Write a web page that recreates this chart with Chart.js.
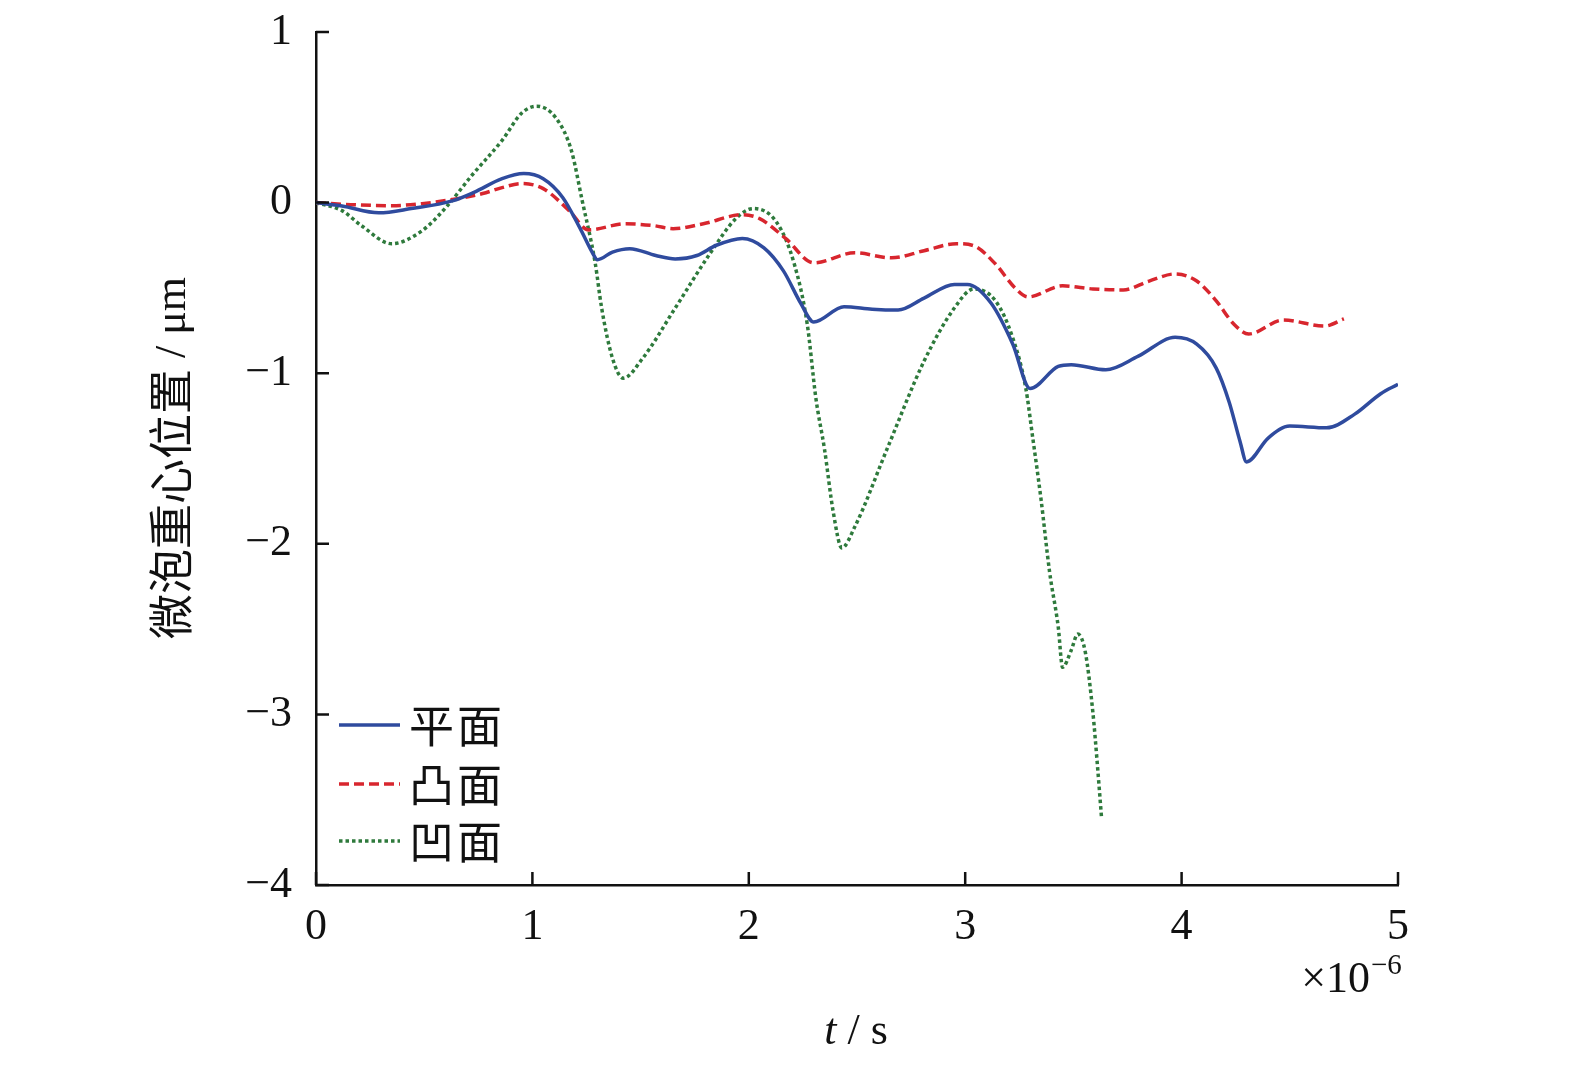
<!DOCTYPE html>
<html>
<head>
<meta charset="utf-8">
<script src="https://cdn.jsdelivr.net/npm/chart.js@4/dist/chart.umd.min.js"></script>
<style>
  html, body { margin: 0; padding: 0; background: #fff; }
  #wrap { width: 1575px; height: 1069px; }
</style>
</head>
<body>
<div id="wrap"><canvas id="chart" width="1575" height="1069"></canvas></div>
<script>
// ─── Data (t in units of 1e-6 s, position in µm) ───────────────

const planeT = [0, 0.12, 0.29, 0.44, 0.63, 0.73, 0.86, 0.96, 1.05, 1.14, 1.22, 1.28, 1.30, 1.37, 1.45, 1.57, 1.66, 1.76, 1.85, 1.97, 2.07, 2.16, 2.24, 2.30, 2.44, 2.57, 2.69, 2.81, 2.95, 3.01, 3.12, 3.22, 3.30, 3.43, 3.49, 3.65, 3.80, 3.97, 4.07, 4.16, 4.22, 4.27, 4.30, 4.40, 4.50, 4.67, 4.80, 4.92, 5.00];
const planeY = [0, -0.02, -0.06, -0.035, 0.01, 0.06, 0.14, 0.17, 0.14, 0.03, -0.15, -0.30, -0.335, -0.29, -0.27, -0.31, -0.33, -0.31, -0.25, -0.21, -0.265, -0.40, -0.59, -0.70, -0.61, -0.625, -0.63, -0.56, -0.48, -0.48, -0.59, -0.83, -1.09, -0.96, -0.95, -0.98, -0.90, -0.79, -0.83, -0.97, -1.17, -1.40, -1.52, -1.38, -1.31, -1.32, -1.24, -1.12, -1.065];

const convexT = [0, 0.16, 0.35, 0.49, 0.63, 0.77, 0.86, 0.95, 1.05, 1.17, 1.26, 1.43, 1.56, 1.65, 1.79, 1.97, 2.05, 2.17, 2.30, 2.49, 2.66, 2.81, 2.96, 3.04, 3.14, 3.23, 3.29, 3.45, 3.59, 3.73, 3.85, 3.97, 4.07, 4.16, 4.24, 4.31, 4.47, 4.66, 4.75];
const convexY = [0, -0.012, -0.018, -0.006, 0.018, 0.053, 0.088, 0.112, 0.082, -0.047, -0.16, -0.124, -0.135, -0.153, -0.124, -0.071, -0.094, -0.21, -0.353, -0.294, -0.324, -0.282, -0.241, -0.253, -0.36, -0.50, -0.553, -0.488, -0.506, -0.512, -0.46, -0.418, -0.46, -0.576, -0.71, -0.77, -0.688, -0.724, -0.682];

const concaveT = [0, 0.12, 0.21, 0.35, 0.49, 0.60, 0.72, 0.86, 0.95, 1.02, 1.11, 1.18, 1.23, 1.29, 1.32, 1.37, 1.42, 1.51, 1.66, 1.82, 1.94, 2.02, 2.13, 2.21, 2.27, 2.31, 2.35, 2.39, 2.43, 2.49, 2.64, 2.81, 2.95, 3.04, 3.14, 3.22, 3.28, 3.31, 3.35, 3.39, 3.43, 3.45, 3.49, 3.52, 3.555, 3.59, 3.61, 3.63];
const concaveY = [0, -0.047, -0.135, -0.241, -0.165, -0.029, 0.159, 0.365, 0.524, 0.565, 0.494, 0.306, 0.012, -0.353, -0.618, -0.912, -1.029, -0.912, -0.618, -0.30, -0.094, -0.035, -0.118, -0.359, -0.712, -1.147, -1.447, -1.812, -2.024, -1.90, -1.441, -0.929, -0.618, -0.506, -0.576, -0.794, -1.088, -1.359, -1.735, -2.165, -2.488, -2.724, -2.624, -2.529, -2.635, -2.988, -3.282, -3.606];

const xTicks = [0, 1, 2, 3, 4, 5];
const yTicks = [1, 0, -1, -2, -3, -4];

const seriesNames = ['平面', '凸面', '凹面'];

// ─── Helpers ────────────────────────────────────────────────

const SERIF = '"Liberation Serif", "Times New Roman", serif';
const CJK = '"Noto Sans CJK SC", "Liberation Serif", serif';

function toPoints(xs, ys) {
  return xs.map((x, i) => ({ x: x, y: ys[i] }));
}

const minus = v => String(v).replace('-', '\u2212');

// Inward ticks, legend and axis titles drawn on top of the chart
const decorPlugin = {
  id: 'decor',
  afterDraw(chart) {
    const { ctx, chartArea: a, scales } = chart;
    const xs = scales.x, ys = scales.y;
    ctx.save();
    ctx.strokeStyle = '#111';
    ctx.lineWidth = 2.5;
    ctx.beginPath();
    yTicks.forEach(v => {
      const py = ys.getPixelForValue(v);
      ctx.moveTo(a.left, py);
      ctx.lineTo(a.left + 13, py);
    });
    xTicks.forEach(v => {
      const px = xs.getPixelForValue(v);
      ctx.moveTo(px, a.bottom);
      ctx.lineTo(px, a.bottom - 13);
    });
    ctx.stroke();

    // legend
    const rows = [725, 784, 841];
    chart.data.datasets.forEach((ds, i) => {
      ctx.strokeStyle = ds.borderColor;
      ctx.lineWidth = ds.borderWidth;
      ctx.setLineDash(ds.borderDash || []);
      ctx.beginPath();
      ctx.moveTo(339, rows[i]);
      ctx.lineTo(400, rows[i]);
      ctx.stroke();
      ctx.setLineDash([]);
      ctx.fillStyle = '#111';
      ctx.font = '45px ' + CJK;
      ctx.textBaseline = 'middle';
      ctx.textAlign = 'left';
      const name = ds.label;
      ctx.fillText(name[0], 409, rows[i] + 1);
      ctx.fillText(name[1], 457, rows[i] + 1);
    });

    // y title
    ctx.fillStyle = '#111';
    ctx.save();
    ctx.translate(171, 458);
    ctx.rotate(-Math.PI / 2);
    ctx.textBaseline = 'middle';
    const cn = '微泡重心位置';
    const unit = ' / μm';
    ctx.font = '45px ' + CJK;
    const wCn = ctx.measureText(cn).width;
    ctx.font = '44px ' + SERIF;
    const wU = ctx.measureText(unit).width;
    const start = -(wCn + wU) / 2;
    ctx.textAlign = 'left';
    ctx.font = '45px ' + CJK;
    ctx.fillText(cn, start, 0);
    ctx.font = '44px ' + SERIF;
    ctx.fillText(unit, start + wCn, 2);
    ctx.restore();

    // x title
    ctx.textBaseline = 'alphabetic';
    ctx.textAlign = 'left';
    ctx.font = 'italic 44px ' + SERIF;
    const tW = ctx.measureText('t').width;
    ctx.font = '44px ' + SERIF;
    const rest = ' / s';
    const rW = ctx.measureText(rest).width;
    const x0 = 856 - (tW + rW) / 2;
    ctx.font = 'italic 44px ' + SERIF;
    ctx.fillText('t', x0, 1044);
    ctx.font = '44px ' + SERIF;
    ctx.fillText(rest, x0 + tW, 1044);

    // exponent
    ctx.font = '44px ' + SERIF;
    const base = '\u00d710';
    const bW = ctx.measureText(base).width;
    ctx.fillText(base, 1370 - bW, 992);
    ctx.font = '29px ' + SERIF;
    ctx.fillText('\u22126', 1371, 974);
    ctx.restore();
  }
};

// ─── Chart ──────────────────────────────────────────────────

new Chart(document.getElementById('chart'), {
  type: 'line',
  data: {
    datasets: [
      {
        label: seriesNames[0],
        data: toPoints(planeT, planeY),
        borderColor: '#2f4b9e',
        borderWidth: 3.5,
      },
      {
        label: seriesNames[1],
        data: toPoints(convexT, convexY),
        borderColor: '#d8262e',
        borderWidth: 3.5,
        borderDash: [10, 5],
      },
      {
        label: seriesNames[2],
        data: toPoints(concaveT, concaveY),
        borderColor: '#2e7a3c',
        borderWidth: 3.5,
        borderDash: [3.5, 3],
      },
    ],
  },
  options: {
    responsive: false,
    animation: false,
    layout: { padding: { top: 32, right: 177, left: 0, bottom: 0 } },
    elements: {
      point: { radius: 0 },
      line: { cubicInterpolationMode: 'monotone', fill: false },
    },
    plugins: {
      legend: { display: false },
      tooltip: { enabled: false },
    },
    scales: {
      x: {
        type: 'linear',
        min: 0,
        max: 5,
        afterFit: s => {
          s.height = 184;
          s.paddingLeft = 0;
          s.paddingRight = 0;
        },
        afterBuildTicks: s => { s.ticks = xTicks.map(v => ({ value: v })); },
        grid: { display: false, drawTicks: false },
        border: { display: true, color: '#111', width: 2.5 },
        ticks: {
          padding: 16,
          color: '#111',
          font: { family: SERIF, size: 44 },
          maxRotation: 0,
          callback: v => minus(v),
        },
      },
      y: {
        type: 'linear',
        min: -4,
        max: 1,
        afterFit: s => {
          s.width = 316;
          s.paddingTop = 0;
          s.paddingBottom = 0;
        },
        afterBuildTicks: s => { s.ticks = yTicks.map(v => ({ value: v })); },
        grid: { display: false, drawTicks: false },
        border: { display: true, color: '#111', width: 2.5 },
        ticks: {
          padding: 24,
          color: '#111',
          font: { family: SERIF, size: 44 },
          callback: v => minus(v),
        },
      },
    },
  },
  plugins: [decorPlugin],
});
</script>
</body>
</html>
